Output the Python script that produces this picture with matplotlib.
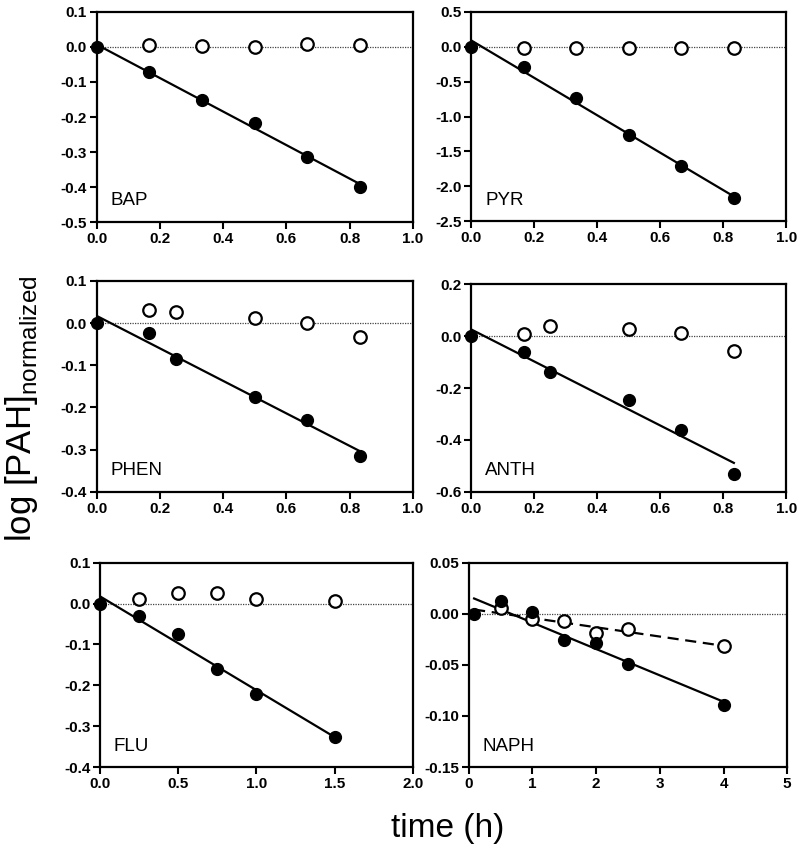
import numpy as np
import matplotlib
matplotlib.use("Agg")
import matplotlib.pyplot as plt

plt.rcParams['font.family'] = ['Liberation Sans', 'DejaVu Sans']

# ---- data ----
names = ["BAP", "PYR", "PHEN", "ANTH", "FLU", "NAPH"]

bap_x = [0, 1/6, 1/3, 0.5, 2/3, 5/6]
bap_filled = [0.0, -0.072, -0.152, -0.218, -0.313, -0.400]
bap_open = [0.0, 0.005, 0.002, -0.001, 0.008, 0.006]

pyr_x = [0, 1/6, 1/3, 0.5, 2/3, 5/6]
pyr_filled = [0.0, -0.286, -0.729, -1.262, -1.714, -2.167]
pyr_open = [0.0, -0.010, -0.010, -0.010, -0.010, -0.024]

phen_x = [0, 1/6, 0.25, 0.5, 2/3, 5/6]
phen_filled = [0.0, -0.023, -0.086, -0.176, -0.229, -0.315]
phen_open = [0.0, 0.032, 0.027, 0.013, 0.001, -0.033]

anth_x = [0, 1/6, 0.25, 0.5, 2/3, 5/6]
anth_filled = [0.0, -0.061, -0.137, -0.247, -0.361, -0.530]
anth_open = [0.0, 0.010, 0.041, 0.028, 0.013, -0.059]

flu_x = [0, 0.25, 0.5, 0.75, 1.0, 1.5]
flu_filled = [0.0, -0.030, -0.074, -0.159, -0.222, -0.327]
flu_open = [0.0, 0.012, 0.026, 0.026, 0.011, 0.006]

naph_x = [0.083, 0.5, 1.0, 1.5, 2.0, 2.5, 4.0]
naph_filled = [0.0, 0.0124, 0.0022, -0.0258, -0.0287, -0.0494, -0.0895]
naph_open = [0.0, 0.006, -0.0048, -0.0067, -0.0185, -0.0146, -0.0318]

xs = [bap_x, pyr_x, phen_x, anth_x, flu_x, naph_x]
filled = [bap_filled, pyr_filled, phen_filled, anth_filled, flu_filled, naph_filled]
opens = [bap_open, pyr_open, phen_open, anth_open, flu_open, naph_open]
open_fit = [False, False, False, False, False, True]

xlims = [(0, 1.0), (0, 1.0), (0, 1.0), (0, 1.0), (0, 2.0), (0, 5)]
xticks = [[0, .2, .4, .6, .8, 1.0]] * 4 + [[0, .5, 1.0, 1.5, 2.0], [0, 1, 2, 3, 4, 5]]
xfmt = ["%.1f"] * 5 + ["%d"]
ylims = [(-0.5, 0.1), (-2.5, 0.5), (-0.4, 0.1), (-0.6, 0.2), (-0.4, 0.1), (-0.15, 0.05)]
yticks = [np.arange(-0.5, 0.11, 0.1), np.arange(-2.5, 0.51, 0.5), np.arange(-0.4, 0.11, 0.1),
          np.arange(-0.6, 0.21, 0.2), np.arange(-0.4, 0.11, 0.1), np.arange(-0.15, 0.051, 0.05)]
yfmt = ["%.1f"] * 5 + ["%.2f"]

# axes rectangles (fig fraction)
rects = [
    [0.121, 0.739, 0.395, 0.247],
    [0.589, 0.740, 0.394, 0.246],
    [0.121, 0.422, 0.395, 0.248],
    [0.589, 0.422, 0.394, 0.244],
    [0.125, 0.0987, 0.391, 0.240],
    [0.586, 0.0987, 0.398, 0.240],
]

fig = plt.figure(figsize=(8, 8.51), dpi=100)

for i in range(6):
    ax = fig.add_axes(rects[i])
    x = np.array(xs[i], dtype=float)
    yf = np.array(filled[i])
    yo = np.array(opens[i])
    ax.axhline(0, color='#444444', lw=0.9, ls=(0, (1, 1)), zorder=1)
    # fits
    p = np.polyfit(x, yf, 1)
    xx = np.array([x.min(), x.max()])
    ax.plot(xx, np.polyval(p, xx), color='black', lw=1.6, zorder=2)
    if open_fit[i]:
        q = np.polyfit(x, yo, 1)
        ax.plot(xx, np.polyval(q, xx), color='black', lw=1.6, ls=(0, (5, 3)), zorder=2)
    ax.plot(x[1:], yo[1:], 'o', ms=9, mfc='white', mec='black', mew=1.6, zorder=3, clip_on=False)
    ax.plot(x, yf, 'o', ms=8.5, color='black', zorder=4, clip_on=False)
    ax.set_xlim(*xlims[i])
    ax.set_ylim(*ylims[i])
    ax.set_xticks(xticks[i])
    ax.set_xticklabels([xfmt[i] % v for v in xticks[i]])
    ax.set_yticks(yticks[i])
    ax.set_yticklabels([yfmt[i] % (v + 0.0) if abs(v) > 1e-9 else yfmt[i] % 0 for v in yticks[i]])
    for s in ax.spines.values():
        s.set_linewidth(1.6)
    ax.tick_params(direction='out', length=5, width=1.5, labelsize=11, pad=2)
    for lab in ax.get_xticklabels() + ax.get_yticklabels():
        lab.set_fontweight('bold')
    ax.text(0.044, 0.08, names[i], transform=ax.transAxes, fontsize=13.5, ha='left', va='baseline')

fig.text(0.56, 0.027, "time (h)", fontsize=24, ha='center', va='center')
fig.text(0.027, 0.52, r"log [PAH]$_{\mathregular{normalized}}$", fontsize=25, rotation=90,
         ha='center', va='center')

fig.savefig("out.png", dpi=100)
